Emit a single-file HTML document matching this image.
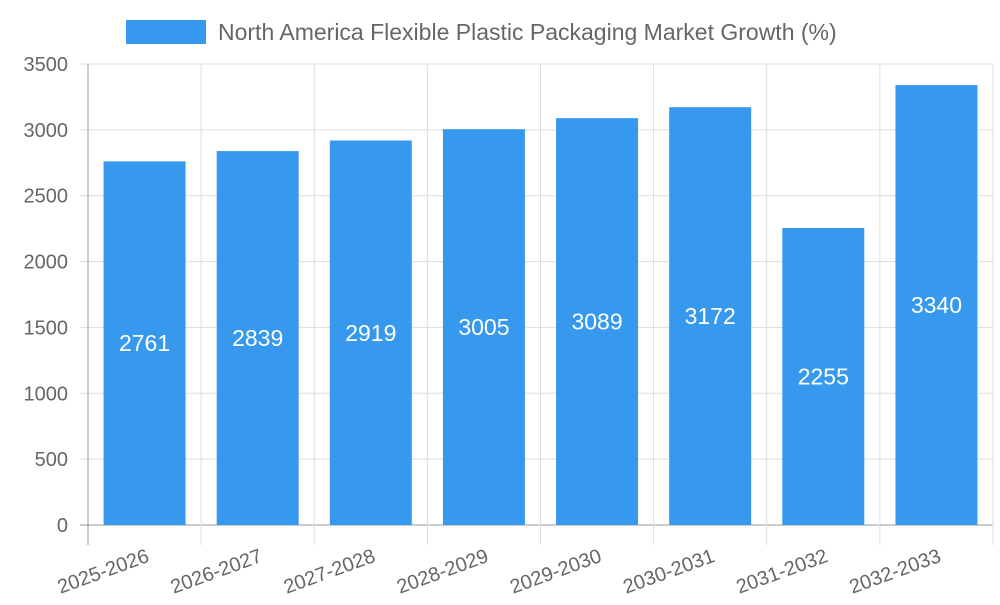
<!DOCTYPE html>
<html><head><meta charset="utf-8"><style>
body{margin:0;background:#fff}
svg{font-family:"Liberation Sans",sans-serif}
</style></head><body>
<svg id="chart" width="1000" height="600">
<rect x="126" y="20" width="80" height="24" fill="#3799ee"/>
<text x="218" y="40" font-size="23" fill="#666">North America Flexible Plastic Packaging Market Growth (%)</text>
<g id="grid"></g><g id="bars"></g><g id="axes"></g>
</svg>
<script>
const categories=["2025-2026","2026-2027","2027-2028","2028-2029","2029-2030","2030-2031","2031-2032","2032-2033"];
const values=[2761,2839,2919,3005,3089,3172,2255,3340];
const yTicks=[0,500,1000,1500,2000,2500,3000,3500];
const X0=88,X1=993,Y0=525,Y1=64,YMAX=3500;
const NS="http://www.w3.org/2000/svg";
const bw=(X1-X0)/categories.length;
const y=v=>Y0-(v/YMAX)*(Y0-Y1);
const xs=i=>X0+i*bw;
function mk(t,a,p){const e=document.createElementNS(NS,t);for(const k in a)e.setAttribute(k,a[k]);p.appendChild(e);return e;}
const grid=document.getElementById('grid'),bars=document.getElementById('bars'),axes=document.getElementById('axes');
yTicks.forEach(t=>{
 const l=mk('line',{x1:80,x2:X1,y1:y(t),y2:y(t),stroke:t===0?'#999':'#ddd','stroke-width':1},grid);
 
 
 const tx=mk('text',{x:68,y:y(t)+7,'text-anchor':'end','font-size':20,fill:'#666'},axes);
 tx.textContent=t;
 
 
});
for(let i=0;i<=categories.length;i++){
 const l=mk('line',{x1:xs(i),x2:xs(i),y1:Y1,y2:545,stroke:i===0?'#999':'#ddd','stroke-width':1},grid);
 
 
}
categories.forEach((c,i)=>{
 const cx=xs(i)+bw/2, w=82;
 const r=mk('rect',{x:cx-w/2,y:y(values[i]),width:w,height:Y0-y(values[i]),fill:'#3799ee'},bars);
 
 
 const v=mk('text',{x:cx,y:(y(values[i])+Y0)/2+8,'text-anchor':'middle','font-size':23,fill:'#fff'},bars);
 v.textContent=values[i];
 
 
 const lx=cx+1, ly=548;
 const t=mk('text',{x:lx,y:ly+14,'text-anchor':'end','font-size':20,fill:'#666',transform:`rotate(-20 ${lx} ${ly})`},axes);
 t.textContent=c;
 
 
});
</script>
</body></html>
